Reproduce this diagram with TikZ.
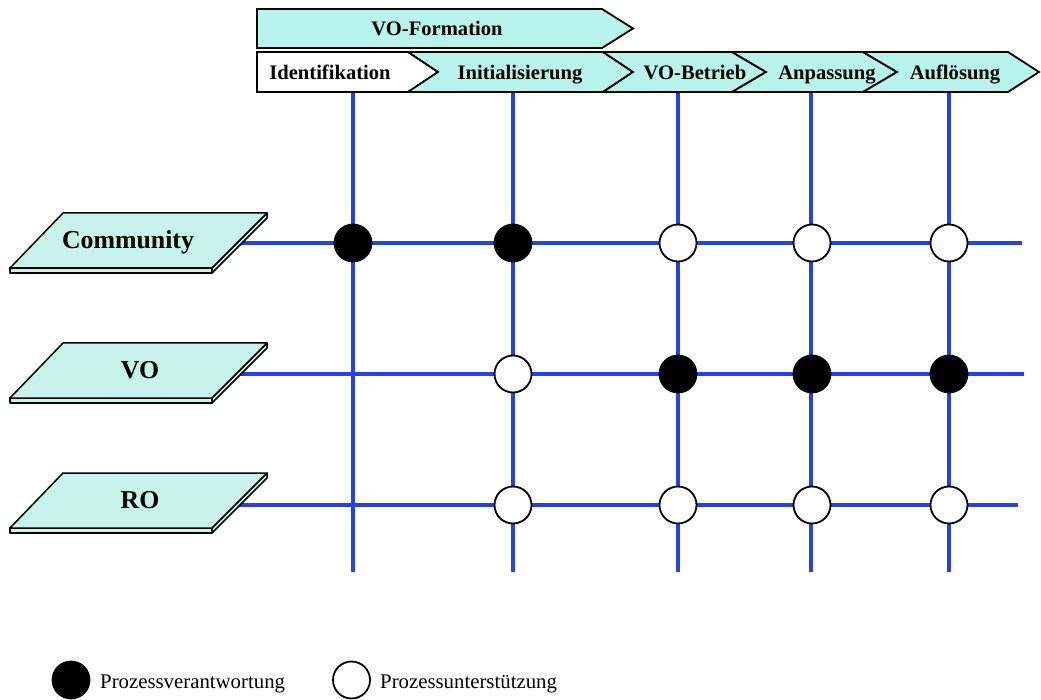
\documentclass[tikz,border=0pt]{standalone}
\usepackage{fontspec}
\setmainfont{Liberation Serif}
\definecolor{phasefill}{RGB}{184,244,236}
\definecolor{levelfill}{RGB}{199,243,236}
\definecolor{gridblue}{RGB}{38,64,235}
\tikzset{
  phase/.style={draw=black, line width=1.8pt, line join=miter, fill=phasefill},
  phaselabel/.style={font=\fontsize{20.6}{24}\bfseries\selectfont, inner sep=0pt, anchor=base},
  levelface/.style={draw=black, line width=1.5pt, line join=round, fill=levelfill},
  levellabel/.style={font=\fontsize{25.8}{30}\bfseries\selectfont, inner sep=0pt, anchor=base},
  gridline/.style={draw=gridblue, line width=3.8pt},
  role/.style={circle, draw=black, line width=1.8pt, minimum size=37pt, inner sep=0pt},
  lead/.style={role, fill=black},
  support/.style={role, fill=white},
  legendtext/.style={font=\fontsize{20.8}{24}\selectfont, inner sep=0pt, anchor=base west},
}
\begin{document}
\begin{tikzpicture}[x=1pt, y=-1pt]
\useasboundingbox (0,0) rectangle (1041,700);

% vertical phase lines
\foreach \x/\n in {353/a, 513/b, 678/c, 811/d, 949/e} {
  \coordinate (top\n) at (\x,92);
  \coordinate (bot\n) at (\x,572);
  \draw[gridline] (top\n) -- (bot\n);
}

% horizontal organisation lines
\coordinate (lc) at (237,243); \coordinate (rc) at (1022,243);
\coordinate (lv) at (237,374); \coordinate (rv) at (1024,374);
\coordinate (lr) at (237,505); \coordinate (rr) at (1018,505);
\draw[gridline] (lc) -- (rc);
\draw[gridline] (lv) -- (rv);
\draw[gridline] (lr) -- (rr);

% phase chevrons
\draw[phase] (257,9) -- (602,9) -- (633,28.5) -- (602,48) -- (257,48) -- cycle;
\node[phaselabel] (formation) at (437,36) {VO-Formation};

\draw[phase, fill=white] (257,52) -- (408,52) -- (438,72) -- (408,92) -- (257,92) -- cycle;
\draw[phase] (408,52) -- (603,52) -- (633,72) -- (603,92) -- (408,92) -- (438,72) -- cycle;
\draw[phase] (603,52) -- (732,52) -- (766,72) -- (732,92) -- (603,92) -- (633,72) -- cycle;
\draw[phase] (732,52) -- (863,52) -- (897,72) -- (863,92) -- (732,92) -- (766,72) -- cycle;
\draw[phase] (863,52) -- (1008,52) -- (1039,72) -- (1008,92) -- (863,92) -- (897,72) -- cycle;
\node[phaselabel] (ident) at (330,80) {Identifikation};
\node[phaselabel] (init) at (520,80) {Initialisierung};
\node[phaselabel] (betrieb) at (695,80) {VO-Betrieb};
\node[phaselabel] (anpass) at (827,80) {Anpassung};
\node[phaselabel] (aufl) at (955,80) {Auflösung};

% organisation levels as slabs
\foreach \t/\n/\lbl/\cx in {213/community/Community/128, 343/vo/VO/140, 473/ro/RO/140} {
  \draw[levelface] (212,\t+55) -- (267,\t) -- (267,\t+5) -- (212,\t+60) -- cycle;
  \draw[levelface] (10,\t+55) -- (212,\t+55) -- (212,\t+60) -- (10,\t+60) -- cycle;
  \draw[levelface] (63,\t) -- (267,\t) -- (212,\t+55) -- (10,\t+55) -- cycle;
  \node[levellabel] (\n) at (\cx,\t+35.5) {\lbl};
}

% responsibility markers
\node[lead]    (c1) at (353,243) {};
\node[lead]    (c2) at (513,243) {};
\node[support] (c3) at (678,243) {};
\node[support] (c4) at (812,243) {};
\node[support] (c5) at (949,243) {};

\node[support] (v2) at (513,374) {};
\node[lead]    (v3) at (678,374) {};
\node[lead]    (v4) at (812,374) {};
\node[lead]    (v5) at (949,374) {};

\node[support] (r2) at (513,505) {};
\node[support] (r3) at (678,505) {};
\node[support] (r4) at (812,505) {};
\node[support] (r5) at (949,505) {};

% legend
\node[lead]    (keylead) at (71,680) {};
\node[legendtext] (keyleadtext) at (100,688) {Prozessverantwortung};
\node[support] (keysupport) at (351.5,680) {};
\node[legendtext] (keysupporttext) at (380,688) {Prozessunterstützung};
\end{tikzpicture}
\end{document}
